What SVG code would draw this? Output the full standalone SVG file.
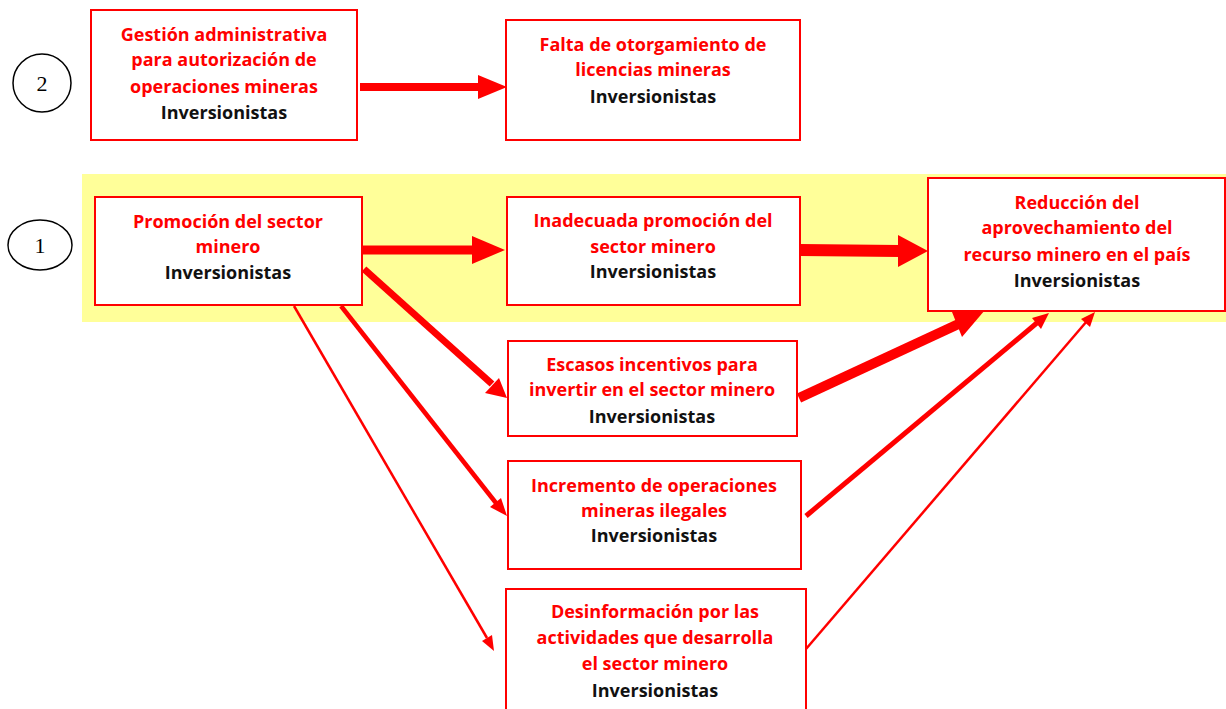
<svg xmlns="http://www.w3.org/2000/svg" width="1226" height="709" viewBox="0 0 1226 709">
<style>
.box{fill:#fff;stroke:#f00;stroke-width:2}
.t{font-family:"Open Sans","Noto Sans",sans-serif;font-weight:bold;font-size:18px;text-anchor:middle;fill:#f00}
.k{fill:#111}
.num{font-family:"Liberation Serif",serif;font-size:22px;text-anchor:middle;fill:#000}
.ell{fill:#fff;stroke:#000;stroke-width:1.5}
.c{stroke:#f00;fill:none}
.h{fill:#f00}
</style>
<rect x="82" y="174" width="1144" height="148" fill="#ffff99"/>
<g id="n2">
<ellipse class="ell" cx="42" cy="83" rx="29" ry="29"/>
<text class="num" x="42" y="91">2</text>
</g>
<g id="n1">
<ellipse class="ell" cx="40" cy="245" rx="32" ry="25"/>
<text class="num" x="40" y="253">1</text>
</g>
<g id="gestion">
<rect class="box" x="91" y="10" width="266" height="130"/>
<text class="t" x="224" y="41">Gestión administrativa</text>
<text class="t" x="224" y="66">para autorización de</text>
<text class="t" x="224" y="93">operaciones mineras</text>
<text class="t k" x="224" y="119">Inversionistas</text>
</g>
<g id="falta">
<rect class="box" x="506" y="20" width="294" height="120"/>
<text class="t" x="653" y="51">Falta de otorgamiento de</text>
<text class="t" x="653" y="76">licencias mineras</text>
<text class="t k" x="653" y="103">Inversionistas</text>
</g>
<g id="promocion">
<rect class="box" x="95" y="197" width="267" height="108"/>
<text class="t" x="228" y="228">Promoción del sector</text>
<text class="t" x="228" y="253">minero</text>
<text class="t k" x="228" y="279">Inversionistas</text>
</g>
<g id="inadecuada">
<rect class="box" x="507" y="197" width="293" height="108"/>
<text class="t" x="653" y="227">Inadecuada promoción del</text>
<text class="t" x="653" y="253">sector minero</text>
<text class="t k" x="653" y="278">Inversionistas</text>
</g>
<g id="reduccion">
<rect class="box" x="928" y="178" width="297" height="133"/>
<text class="t" x="1077" y="209">Reducción del</text>
<text class="t" x="1077" y="234">aprovechamiento del</text>
<text class="t" x="1077" y="261">recurso minero en el país</text>
<text class="t k" x="1077" y="287">Inversionistas</text>
</g>
<g id="escasos">
<rect class="box" x="508" y="341" width="289" height="95"/>
<text class="t" x="652" y="371">Escasos incentivos para</text>
<text class="t" x="652" y="396">invertir en el sector minero</text>
<text class="t k" x="652" y="423">Inversionistas</text>
</g>
<g id="incremento">
<rect class="box" x="508" y="461" width="293" height="108"/>
<text class="t" x="654" y="492">Incremento de operaciones</text>
<text class="t" x="654" y="517">mineras ilegales</text>
<text class="t k" x="654" y="542">Inversionistas</text>
</g>
<g id="desinformacion">
<rect class="box" x="506" y="589" width="300" height="130"/>
<text class="t" x="655" y="618">Desinformación por las</text>
<text class="t" x="655" y="644">actividades que desarrolla</text>
<text class="t" x="655" y="670">el sector minero</text>
<text class="t k" x="655" y="697">Inversionistas</text>
</g>
<g id="connectors">
<line class="c" x1="360" y1="87" x2="480" y2="87" stroke-width="8"/>
<polygon class="h" points="507,87 478,75 478,99"/>
<line class="c" x1="362" y1="250" x2="474" y2="250" stroke-width="9"/>
<polygon class="h" points="505,250 472,236 472,264"/>
<line class="c" x1="800" y1="250" x2="900" y2="251" stroke-width="12"/>
<polygon class="h" points="928,251 898,235 898,267"/>
<line class="c" x1="364" y1="269" x2="492" y2="384" stroke-width="7"/>
<polygon class="h" points="507,398 485,393 499,378"/>
<line class="c" x1="341" y1="306" x2="496" y2="503" stroke-width="4.5"/>
<polygon class="h" points="507,516 490,507 501,498"/>
<line class="c" x1="294" y1="306" x2="487" y2="638" stroke-width="2.5"/>
<polygon class="h" points="494,651 482,641 492,635"/>
<line class="c" x1="799" y1="398" x2="965" y2="321" stroke-width="10"/>
<polygon class="h" points="985,310 962,337 952,312"/>
<line class="c" x1="806" y1="516" x2="1038" y2="322" stroke-width="5"/>
<polygon class="h" points="1049,313 1041,329 1032,318"/>
<line class="c" x1="806" y1="649" x2="1087" y2="321" stroke-width="2.5"/>
<polygon class="h" points="1095,312 1090,327 1081,319"/>
</g>
</svg>
